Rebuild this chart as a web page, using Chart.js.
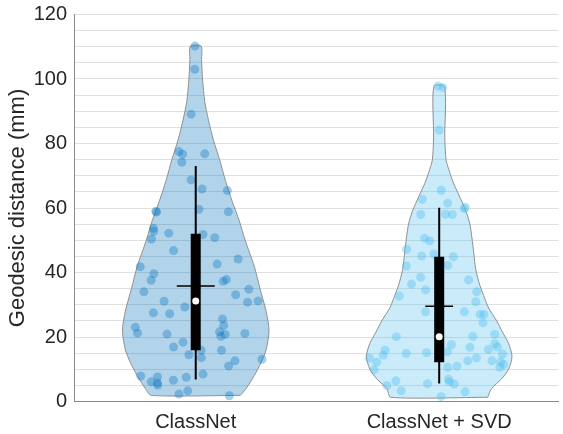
<!DOCTYPE html>
<html>
<head>
<meta charset="utf-8">
<script src="https://cdn.jsdelivr.net/npm/chart.js@4.4.0/dist/chart.umd.min.js"></script>
<style>
  html, body { margin: 0; padding: 0; background: #fff; }
  #wrap { width: 563px; height: 434px; position: relative; }
</style>
</head>
<body>
<div id="wrap"><canvas id="violinChart"></canvas></div>
<script>
const categories = ["ClassNet", "ClassNet + SVD"];
const yMajorTicks = [0, 20, 40, 60, 80, 100, 120];

// individual samples (value, horizontal jitter)
const classNetValues = [110.2,103.0,89.1,77.5,76.7,76.8,74.2,68.7,65.9,65.4,59.0,58.7,59.6,58.8,53.7,52.8,50.4,52.2,51.8,50.8,46.8,44.2,42.6,41.8,39.6,37.6,37.3,37.8,34.0,34.8,33.1,31.1,30.8,31.2,29.3,27.5,27.2,25.6,23.6,23.0,21.2,20.9,21.6,20.8,20.2,21.1,18.4,16.9,15.9,15.9,14.5,13.6,12.6,11.0,13.1,7.9,7.6,6.1,5.7,5.1,6.6,7.5,8.5,2.3,3.3,1.8];
const classNetJitter = [-0.003,-0.004,-0.019,-0.069,-0.054,0.037,-0.057,-0.019,0.026,0.130,-0.164,-0.161,0.013,0.134,-0.174,-0.172,-0.182,-0.111,0.030,0.078,-0.091,0.174,0.088,-0.228,-0.172,-0.183,0.113,0.126,-0.213,0.218,0.164,-0.130,0.213,0.256,-0.045,-0.174,-0.107,0.110,0.115,-0.248,-0.239,-0.118,0.098,0.121,0.103,0.202,-0.052,-0.091,0.022,0.106,-0.028,0.023,0.161,0.135,0.272,-0.226,-0.157,-0.183,-0.157,-0.156,-0.092,-0.039,0.030,-0.069,-0.033,0.138];
const svdValues = [97.8,97.4,84.2,65.5,62.7,61.5,60.2,59.8,58.0,58.1,58.0,50.6,49.8,47.2,45.1,45.7,44.9,42.0,42.2,38.5,36.4,37.7,34.6,34.0,32.7,30.9,27.8,27.8,27.0,27.0,24.4,20.1,20.2,20.8,17.6,16.8,17.9,16.9,16.1,15.9,14.4,14.9,15.1,15.4,13.5,14.7,13.5,12.2,12.6,12.6,12.3,11.5,10.6,11.0,10.6,9.8,6.4,6.9,6.1,5.4,5.5,4.9,3.3,3.0,1.5];
const svdJitter = [-0.005,0.015,0,0.008,-0.069,0.035,0.107,0.103,-0.076,0.026,0.054,-0.060,-0.039,-0.134,-0.072,-0.022,0.058,-0.135,0.035,-0.076,-0.114,0.121,-0.056,0.154,-0.164,0.150,-0.056,0.103,0.168,0.184,0.180,-0.176,0.138,0.228,0.050,0.126,0.229,0.239,0.202,-0.222,-0.230,-0.135,-0.052,0.033,0.153,0.260,-0.287,-0.257,0.117,0.217,0.252,0.265,0.249,0.073,0.035,-0.268,-0.178,0.038,0.042,0.062,-0.048,-0.215,-0.156,0.106,0.008];

// violin outlines: value levels and half width of the density
const classNetShapeY = [1.9,4,8,12,16,22,28,35,42,50,56,62,68.5,75,81,87,93,100,106,110.2];
const classNetShapeW = [0.183,0.207,0.240,0.268,0.289,0.301,0.289,0.264,0.240,0.203,0.179,0.150,0.122,0.098,0.073,0.053,0.037,0.028,0.024,0.022];
const svdShapeY = [1.3,4,7,10,14,18,21.5,25,29,32,36,41,46,51,55,59,64,68,72,75,82,97.7];
const svdShapeW = [0.199,0.215,0.256,0.285,0.299,0.285,0.260,0.236,0.203,0.187,0.167,0.150,0.142,0.134,0.126,0.110,0.081,0.057,0.039,0.028,0.023,0.022];

// box summary per category
const whiskerLow = [6.8, 5.6];
const whiskerHigh = [73.0, 60.1];
const q1 = [15.9, 12.2];
const q3 = [52.0, 44.9];
const means = [35.8, 29.5];
const medians = [31.2, 20.1];

const fillColors = ["rgba(0,114,189,0.30)", "rgba(77,190,238,0.30)"];
const dotColors = ["rgba(0,114,189,0.35)", "rgba(77,190,238,0.38)"];
const meanHalf = [0.078, 0.057];

function outline(pos, ys, ws) {
    const right = ys.map((y, i) => ({ x: pos + ws[i], y: y }));
    const left = ys.map((y, i) => ({ x: pos - ws[i], y: y })).reverse();
    const pts = right.concat(left);
    pts.push(pts[0]);
    return pts;
}

function samples(pos, vals, jit) {
    return vals.map((v, i) => ({ x: pos + jit[i], y: v }));
}

const datasets = [];
const shapes = [[classNetShapeY, classNetShapeW], [svdShapeY, svdShapeW]];
const pointSets = [[classNetValues, classNetJitter], [svdValues, svdJitter]];

categories.forEach((c, i) => {
    const pos = i + 1;
    datasets.push({
        data: outline(pos, shapes[i][0], shapes[i][1]),
        showLine: true, fill: "shape", tension: 0.25,
        backgroundColor: fillColors[i], borderColor: "#8f8f8f", borderWidth: 1,
        pointRadius: 0, order: 5
    });
    datasets.push({
        data: samples(pos, pointSets[i][0], pointSets[i][1]),
        backgroundColor: dotColors[i], borderWidth: 0, pointRadius: 4.5, order: 4
    });
    datasets.push({
        data: [{ x: pos, y: whiskerLow[i] }, { x: pos, y: whiskerHigh[i] }],
        showLine: true, borderColor: "#000", borderWidth: 2, pointRadius: 0, order: 3
    });
    datasets.push({
        data: [{ x: pos, y: q1[i] }, { x: pos, y: q3[i] }],
        showLine: true, borderColor: "#000", borderWidth: 10, borderCapStyle: "butt", pointRadius: 0, order: 2
    });
    datasets.push({
        data: [{ x: pos - meanHalf[i], y: means[i] }, { x: pos + meanHalf[i], y: means[i] }],
        showLine: true, borderColor: "#000", borderWidth: 1.5, pointRadius: 0, order: 1
    });
    datasets.push({
        data: [{ x: pos, y: medians[i] }],
        backgroundColor: "#fff", borderWidth: 0, pointRadius: 3.5, order: 0
    });
});

Chart.defaults.font.family = "'Liberation Sans', Arial, Helvetica, sans-serif";
Chart.defaults.color = "#262626";

new Chart(document.getElementById("violinChart"), {
    type: "scatter",
    data: { datasets: datasets },
    options: {
        responsive: true,
        maintainAspectRatio: false,
        animation: false,
        layout: { padding: { top: 0, right: 0, left: 0, bottom: 0 } },
        plugins: { legend: { display: false }, tooltip: { enabled: false } },
        scales: {
            x: {
                type: "linear",
                min: 0.5,
                max: 2.49,
                afterBuildTicks: scale => { scale.ticks = categories.map((c, i) => ({ value: i + 1 })); },
                afterFit: scale => { scale.height = 32.5; },
                ticks: {
                    font: { size: 20 },
                    padding: 9,
                    autoSkip: false,
                    maxRotation: 0,
                    callback: v => categories[v - 1]
                },
                grid: { display: false, drawTicks: false },
                border: { display: true, color: "#888", width: 1 }
            },
            y: {
                min: 0,
                max: 120,
                afterFit: scale => {
                    scale.width = 74;
                    scale.paddingTop = 14.5;
                    scale.paddingBottom = 0;
                },
                ticks: {
                    stepSize: 5,
                    autoSkip: false,
                    font: { size: 20 },
                    padding: 7,
                    callback: v => yMajorTicks.includes(v) ? String(v) : ""
                },
                grid: { color: "#e0e0e0", lineWidth: 1, drawTicks: false },
                border: { display: true, color: "#888", width: 1 },
                title: {
                    display: true,
                    text: "Geodesic distance (mm)",
                    font: { size: 22 },
                    padding: { top: 5, bottom: 0 }
                }
            }
        }
    }
});
</script>
</body>
</html>
